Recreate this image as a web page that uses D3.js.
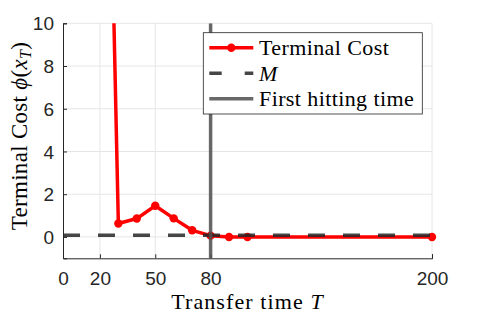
<!DOCTYPE html>
<html>
<head>
<meta charset="utf-8">
<script src="https://cdn.jsdelivr.net/npm/d3@7"></script>
<style>
  body { margin: 0; background: #fff; }
  svg { display: block; }
  .tick text { font-family: "Liberation Sans", Arial, sans-serif; font-size: 19px; fill: #262626; }
  .lbl { font-family: "Liberation Serif", "Times New Roman", serif; font-size: 22px; fill: #000; }
</style>
</head>
<body>
<svg width="478" height="319"></svg>
<script>
// transfer times and the terminal cost at each
var transferT = [20, 30, 40, 50, 60, 70, 80, 90, 100, 200];
var terminalCost = [40, 0.63, 0.86, 1.46, 0.87, 0.31, 0.06, 0.0, 0.0, 0.0];
// level M and the first hitting time
var levelM = 0.08;
var hitT = 80;
var xTicks = [0, 20, 50, 80, 200];
var yTicks = [0, 2, 4, 6, 8, 10];
var legendNames = ["Terminal Cost", "M", "First hitting time"];

var svg = d3.select("svg");
var m = {left: 63, right: 432, top: 23.3, bottom: 258.3};

var x = d3.scaleLinear().domain([0, 200]).range([m.left, m.right]);
var y = d3.scaleLinear().domain([-1, 10]).range([m.bottom, m.top]);

//clip only the top so the off-scale point is cut, markers at the edge stay
svg.append("defs").append("clipPath").attr("id", "clip")
  .append("rect").attr("x", m.left - 10).attr("y", m.top)
  .attr("width", m.right - m.left + 20).attr("height", m.bottom - m.top + 10);

//grid lines
var grid = svg.append("g");
grid.selectAll(".gx").data(xTicks.slice(1)).enter().append("line")
  .attr("x1", function(d){return x(d);}).attr("x2", function(d){return x(d);})
  .attr("y1", m.top).attr("y2", m.bottom)
  .attr("stroke", "#e6e6e6").attr("stroke-width", 1);
grid.selectAll(".gy").data(yTicks).enter().append("line")
  .attr("y1", function(d){return y(d);}).attr("y2", function(d){return y(d);})
  .attr("x1", m.left).attr("x2", m.right)
  .attr("stroke", "#e6e6e6").attr("stroke-width", 1);

//axes, ticks pointing inward like matlab
var xAxis = svg.append("g").attr("transform", "translate(0," + m.bottom + ")")
  .call(d3.axisBottom(x).tickValues(xTicks).tickSize(-4).tickPadding(13));
var yAxis = svg.append("g").attr("transform", "translate(" + m.left + ",0)")
  .call(d3.axisLeft(y).tickValues(yTicks).tickSize(-4).tickPadding(9));
[xAxis, yAxis].forEach(function(a){
  a.select(".domain").attr("stroke", "#262626").attr("stroke-width", 1);
  a.selectAll(".tick line").attr("stroke", "#262626");
});
yAxis.selectAll(".tick text").attr("dy", "0.35em");

var plot = svg.append("g").attr("clip-path", "url(#clip)");

//terminal cost curve
var pts = transferT.map(function(t, i){return [t, terminalCost[i]];});
plot.append("path").datum(pts)
  .attr("fill", "none").attr("stroke", "#ff0000").attr("stroke-width", 3.5)
  .attr("stroke-linejoin", "round")
  .attr("d", d3.line().x(function(d){return x(d[0]);}).y(function(d){return y(d[1]);}));
plot.selectAll("circle").data(pts).enter().append("circle")
  .attr("cx", function(d){return x(d[0]);}).attr("cy", function(d){return y(d[1]);})
  .attr("r", 4.2).attr("fill", "#ff0000");

//level M
plot.append("line")
  .attr("x1", x(0)).attr("x2", x(200)).attr("y1", y(levelM)).attr("y2", y(levelM))
  .attr("stroke", "#262626").attr("stroke-opacity", 0.85).attr("stroke-width", 3.5)
  .attr("stroke-dasharray", "17,18");

//first hitting time
plot.append("line")
  .attr("x1", x(hitT)).attr("x2", x(hitT)).attr("y1", y(10)).attr("y2", y(-1))
  .attr("stroke", "#4d4d4d").attr("stroke-opacity", 0.85).attr("stroke-width", 3.5);

//legend
var lg = svg.append("g");
lg.append("rect").attr("x", 203.3).attr("y", 32.7).attr("width", 219).attr("height", 81.3)
  .attr("fill", "#fff").attr("stroke", "#262626").attr("stroke-width", 0.8);
var rowY = [47.7, 73.3, 98.7];
lg.append("line").attr("x1", 209.3).attr("x2", 253.3).attr("y1", rowY[0]).attr("y2", rowY[0])
  .attr("stroke", "#ff0000").attr("stroke-width", 3.5);
lg.append("circle").attr("cx", 231.3).attr("cy", rowY[0]).attr("r", 4.2).attr("fill", "#ff0000");
lg.append("line").attr("x1", 209.3).attr("x2", 253.3).attr("y1", rowY[1]).attr("y2", rowY[1])
  .attr("stroke", "#262626").attr("stroke-opacity", 0.85).attr("stroke-width", 3.5)
  .attr("stroke-dasharray", "12.4,23");
lg.append("line").attr("x1", 209.3).attr("x2", 253.3).attr("y1", rowY[2]).attr("y2", rowY[2])
  .attr("stroke", "#4d4d4d").attr("stroke-opacity", 0.85).attr("stroke-width", 3.5);
lg.selectAll("text").data(legendNames).enter().append("text")
  .attr("class", "lbl").attr("x", 259).attr("y", function(d, i){return rowY[i];})
  .attr("dy", "0.35em").style("letter-spacing", "0.4px")
  .style("font-style", function(d, i){return i == 1 ? "italic" : null;})
  .text(function(d){return d;});

//axis labels
var xl = svg.append("text").attr("class", "lbl").attr("x", (m.left + m.right) / 2).attr("y", 309)
  .attr("text-anchor", "middle").style("letter-spacing", "1.1px");
xl.append("tspan").text("Transfer time ");
xl.append("tspan").style("font-style", "italic").text("T");

var yl = svg.append("text").attr("class", "lbl").style("font-size", "23px").style("letter-spacing", "0.3px")
  .attr("transform", "translate(27,136) rotate(-90)").attr("text-anchor", "middle");
yl.append("tspan").text("Terminal Cost ");
yl.append("tspan").style("font-style", "italic").text("ϕ");
yl.append("tspan").text("(");
yl.append("tspan").style("font-style", "italic").text("x");
yl.append("tspan").style("font-style", "italic").attr("font-size", "16px").attr("dy", 4).text("T");
yl.append("tspan").attr("dy", -4).text(")");
</script>
</body>
</html>
